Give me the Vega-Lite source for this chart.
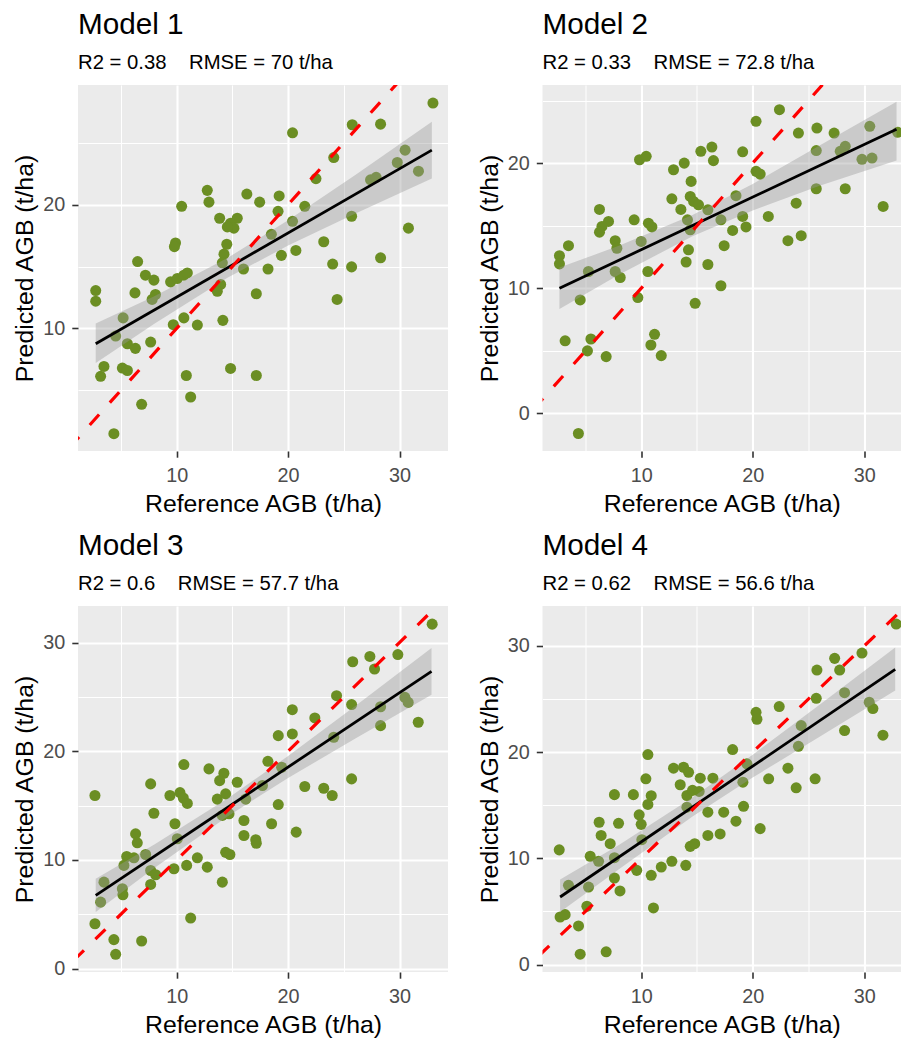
{
  "$schema": "https://vega.github.io/schema/vega-lite/v6.json",
  "background": "white",
  "padding": {"left": 12, "top": 10, "right": 0, "bottom": 0},
  "bounds": "flush",
  "columns": 2,
  "spacing": {"row": 155, "column": 94.5},
  "datasets": {
    "p1": [
      {"ref":33.0,"pred":28.2},{"ref":20.4,"pred":25.8},{"ref":25.76,"pred":26.45},{"ref":28.3,"pred":26.5},{"ref":24.1,"pred":23.8},{"ref":30.5,"pred":24.4},{"ref":29.8,"pred":23.4},{"ref":31.7,"pred":22.7},{"ref":27.4,"pred":22.0},{"ref":27.9,"pred":22.2},{"ref":22.5,"pred":22.1},{"ref":12.75,"pred":21.15},{"ref":12.9,"pred":20.2},{"ref":16.3,"pred":20.85},{"ref":19.2,"pred":20.7},{"ref":17.45,"pred":20.2},{"ref":10.45,"pred":19.86},{"ref":21.5,"pred":19.86},{"ref":19.1,"pred":19.46},{"ref":25.7,"pred":19.06},{"ref":13.86,"pred":18.9},{"ref":15.44,"pred":18.9},{"ref":14.84,"pred":18.5},{"ref":15.14,"pred":18.1},{"ref":14.55,"pred":18.2},{"ref":20.4,"pred":18.65},{"ref":30.8,"pred":18.1},{"ref":18.5,"pred":17.6},{"ref":23.2,"pred":17.0},{"ref":9.9,"pred":16.9},{"ref":9.8,"pred":16.6},{"ref":14.5,"pred":16.8},{"ref":19.4,"pred":15.9},{"ref":20.7,"pred":16.3},{"ref":28.3,"pred":15.7},{"ref":6.5,"pred":15.4},{"ref":14.25,"pred":16.0},{"ref":24.0,"pred":15.2},{"ref":25.7,"pred":14.97},{"ref":14.1,"pred":15.3},{"ref":16.0,"pred":14.8},{"ref":18.2,"pred":14.8},{"ref":7.2,"pred":14.3},{"ref":7.96,"pred":13.9},{"ref":9.46,"pred":13.76},{"ref":10.06,"pred":14.03},{"ref":10.65,"pred":14.3},{"ref":10.96,"pred":14.48},{"ref":2.74,"pred":13.06},{"ref":2.74,"pred":12.2},{"ref":6.26,"pred":12.87},{"ref":8.1,"pred":12.74},{"ref":7.8,"pred":12.34},{"ref":13.95,"pred":13.55},{"ref":13.65,"pred":13.0},{"ref":17.15,"pred":12.8},{"ref":5.2,"pred":10.85},{"ref":4.53,"pred":9.38},{"ref":9.7,"pred":10.3},{"ref":10.65,"pred":10.85},{"ref":11.86,"pred":10.27},{"ref":14.15,"pred":10.65},{"ref":5.58,"pred":8.76},{"ref":6.3,"pred":8.39},{"ref":7.67,"pred":8.9},{"ref":3.48,"pred":6.93},{"ref":3.18,"pred":6.13},{"ref":5.13,"pred":6.8},{"ref":5.58,"pred":6.6},{"ref":10.87,"pred":6.2},{"ref":14.84,"pred":6.77},{"ref":17.15,"pred":6.2},{"ref":24.4,"pred":12.34},{"ref":11.26,"pred":4.46},{"ref":6.86,"pred":3.87},{"ref":4.37,"pred":1.5}
    ],
    "p2": [
      {"ref":33.0,"pred":22.46},{"ref":22.4,"pred":24.27},{"ref":20.3,"pred":23.34},{"ref":25.76,"pred":22.8},{"ref":24.1,"pred":22.4},{"ref":27.3,"pred":22.4},{"ref":30.5,"pred":22.94},{"ref":25.7,"pred":21.0},{"ref":28.3,"pred":21.34},{"ref":27.85,"pred":20.94},{"ref":29.8,"pred":20.3},{"ref":30.7,"pred":20.4},{"ref":9.85,"pred":20.27},{"ref":10.45,"pred":20.54},{"ref":15.35,"pred":20.94},{"ref":16.34,"pred":21.28},{"ref":16.48,"pred":20.2},{"ref":19.1,"pred":20.9},{"ref":13.86,"pred":20.0},{"ref":12.9,"pred":19.47},{"ref":14.48,"pred":18.54},{"ref":20.3,"pred":19.34},{"ref":20.67,"pred":19.12},{"ref":25.7,"pred":17.95},{"ref":28.3,"pred":17.95},{"ref":31.7,"pred":16.54},{"ref":18.5,"pred":17.4},{"ref":12.75,"pred":17.15},{"ref":14.4,"pred":17.34},{"ref":14.7,"pred":16.94},{"ref":15.14,"pred":16.67},{"ref":13.56,"pred":16.3},{"ref":6.26,"pred":16.3},{"ref":23.9,"pred":16.8},{"ref":15.98,"pred":16.27},{"ref":19.1,"pred":15.74},{"ref":19.4,"pred":14.9},{"ref":17.15,"pred":15.47},{"ref":14.15,"pred":15.47},{"ref":21.4,"pred":15.74},{"ref":9.37,"pred":15.47},{"ref":10.65,"pred":15.2},{"ref":10.96,"pred":14.9},{"ref":7.07,"pred":15.34},{"ref":6.48,"pred":14.94},{"ref":6.26,"pred":14.48},{"ref":14.4,"pred":14.67},{"ref":18.2,"pred":14.62},{"ref":3.48,"pred":13.4},{"ref":2.67,"pred":12.6},{"ref":2.67,"pred":11.95},{"ref":7.67,"pred":13.8},{"ref":7.82,"pred":13.2},{"ref":10.0,"pred":13.74},{"ref":23.16,"pred":13.8},{"ref":24.35,"pred":14.2},{"ref":17.44,"pred":13.4},{"ref":14.24,"pred":13.07},{"ref":14.03,"pred":12.1},{"ref":15.98,"pred":11.9},{"ref":5.27,"pred":11.34},{"ref":7.67,"pred":11.34},{"ref":8.12,"pred":10.86},{"ref":10.6,"pred":11.34},{"ref":17.15,"pred":10.2},{"ref":14.84,"pred":8.8},{"ref":4.53,"pred":9.07},{"ref":9.7,"pred":9.26},{"ref":3.18,"pred":5.8},{"ref":5.49,"pred":5.95},{"ref":5.18,"pred":5.0},{"ref":6.86,"pred":4.54},{"ref":11.2,"pred":6.32},{"ref":10.87,"pred":5.47},{"ref":11.8,"pred":4.62},{"ref":4.37,"pred":-1.6}
    ],
    "p3": [
      {"ref":32.93,"pred":31.7},{"ref":25.8,"pred":28.24},{"ref":27.34,"pred":28.73},{"ref":27.76,"pred":27.57},{"ref":29.85,"pred":28.9},{"ref":24.35,"pred":25.12},{"ref":25.7,"pred":24.3},{"ref":28.3,"pred":24.1},{"ref":30.48,"pred":24.96},{"ref":30.78,"pred":24.5},{"ref":28.3,"pred":22.36},{"ref":31.68,"pred":22.67},{"ref":20.38,"pred":23.83},{"ref":22.4,"pred":23.07},{"ref":20.38,"pred":21.6},{"ref":19.12,"pred":21.44},{"ref":24.1,"pred":21.29},{"ref":18.19,"pred":19.08},{"ref":19.42,"pred":18.53},{"ref":10.65,"pred":18.78},{"ref":12.9,"pred":18.38},{"ref":14.24,"pred":17.98},{"ref":13.86,"pred":17.3},{"ref":15.44,"pred":17.15},{"ref":25.7,"pred":17.46},{"ref":7.67,"pred":17.0},{"ref":21.5,"pred":16.76},{"ref":23.2,"pred":16.6},{"ref":2.67,"pred":15.93},{"ref":9.4,"pred":15.93},{"ref":10.3,"pred":16.2},{"ref":10.6,"pred":15.7},{"ref":10.96,"pred":15.2},{"ref":13.65,"pred":15.6},{"ref":14.4,"pred":16.08},{"ref":14.7,"pred":14.25},{"ref":14.1,"pred":14.1},{"ref":16.2,"pred":15.6},{"ref":17.7,"pred":16.85},{"ref":19.12,"pred":15.1},{"ref":23.96,"pred":15.93},{"ref":7.96,"pred":14.3},{"ref":9.85,"pred":13.33},{"ref":16.04,"pred":13.63},{"ref":18.52,"pred":13.33},{"ref":20.73,"pred":12.56},{"ref":6.32,"pred":12.4},{"ref":6.47,"pred":11.58},{"ref":10.06,"pred":11.95},{"ref":16.04,"pred":12.25},{"ref":17.1,"pred":11.86},{"ref":17.15,"pred":11.54},{"ref":5.52,"pred":10.32},{"ref":6.17,"pred":10.2},{"ref":7.22,"pred":10.5},{"ref":5.27,"pred":9.5},{"ref":14.4,"pred":10.7},{"ref":14.78,"pred":10.5},{"ref":11.86,"pred":10.2},{"ref":9.76,"pred":9.19},{"ref":10.9,"pred":9.5},{"ref":12.75,"pred":9.34},{"ref":7.67,"pred":9.03},{"ref":8.12,"pred":8.64},{"ref":7.67,"pred":7.75},{"ref":14.1,"pred":7.96},{"ref":3.48,"pred":7.96},{"ref":3.18,"pred":6.12},{"ref":5.13,"pred":7.35},{"ref":5.18,"pred":6.8},{"ref":11.26,"pred":4.65},{"ref":2.67,"pred":4.13},{"ref":6.86,"pred":2.54},{"ref":4.37,"pred":2.67},{"ref":4.53,"pred":1.32}
    ],
    "p4": [
      {"ref":32.87,"pred":32.06},{"ref":25.76,"pred":27.73},{"ref":27.35,"pred":28.83},{"ref":27.8,"pred":27.73},{"ref":29.8,"pred":29.33},{"ref":25.7,"pred":25.07},{"ref":28.24,"pred":25.6},{"ref":30.45,"pred":24.7},{"ref":30.78,"pred":24.1},{"ref":28.24,"pred":22.03},{"ref":31.68,"pred":21.6},{"ref":20.3,"pred":23.75},{"ref":20.38,"pred":23.1},{"ref":22.38,"pred":24.29},{"ref":24.35,"pred":22.5},{"ref":24.1,"pred":20.55},{"ref":18.2,"pred":20.24},{"ref":19.48,"pred":18.9},{"ref":23.16,"pred":18.49},{"ref":25.6,"pred":17.49},{"ref":21.43,"pred":17.49},{"ref":23.9,"pred":16.64},{"ref":10.6,"pred":19.77},{"ref":12.9,"pred":18.49},{"ref":13.8,"pred":18.58},{"ref":14.25,"pred":18.1},{"ref":10.42,"pred":17.49},{"ref":15.3,"pred":17.55},{"ref":16.43,"pred":17.55},{"ref":19.12,"pred":17.17},{"ref":13.5,"pred":16.93},{"ref":7.6,"pred":16.0},{"ref":9.3,"pred":16.0},{"ref":10.9,"pred":15.9},{"ref":10.6,"pred":15.08},{"ref":14.1,"pred":15.92},{"ref":14.6,"pred":16.4},{"ref":15.2,"pred":16.3},{"ref":14.1,"pred":14.82},{"ref":15.98,"pred":14.35},{"ref":17.4,"pred":14.35},{"ref":19.18,"pred":14.9},{"ref":18.5,"pred":13.5},{"ref":20.67,"pred":12.8},{"ref":6.23,"pred":13.4},{"ref":7.97,"pred":13.3},{"ref":9.82,"pred":14.1},{"ref":10.0,"pred":13.2},{"ref":6.41,"pred":12.16},{"ref":7.22,"pred":11.38},{"ref":10.06,"pred":11.76},{"ref":15.98,"pred":12.16},{"ref":17.08,"pred":12.3},{"ref":14.4,"pred":11.13},{"ref":14.8,"pred":11.38},{"ref":2.65,"pred":10.8},{"ref":5.43,"pred":10.2},{"ref":6.18,"pred":9.72},{"ref":7.6,"pred":10.06},{"ref":9.6,"pred":8.87},{"ref":10.9,"pred":8.4},{"ref":11.8,"pred":9.18},{"ref":12.75,"pred":9.72},{"ref":14.0,"pred":9.34},{"ref":3.48,"pred":7.46},{"ref":7.6,"pred":8.15},{"ref":8.1,"pred":6.93},{"ref":5.28,"pred":7.3},{"ref":5.13,"pred":5.49},{"ref":11.1,"pred":5.33},{"ref":2.73,"pred":4.48},{"ref":3.18,"pred":4.7},{"ref":4.38,"pred":3.64},{"ref":4.53,"pred":0.98},{"ref":6.86,"pred":1.2}
    ],
    "b1": [{"ref":2.74,"lo":7.2,"hi":10.4},{"ref":8,"lo":10.38,"hi":12.6},{"ref":14.6,"lo":14.11,"hi":15.71},{"ref":20,"lo":16.69,"hi":18.73},{"ref":26,"lo":19.26,"hi":22.38},{"ref":32.9,"lo":22.1,"hi":26.7}],
    "b2": [{"ref":2.67,"lo":8.35,"hi":11.65},{"ref":8,"lo":11.08,"hi":13.39},{"ref":14.6,"lo":14.16,"hi":15.86},{"ref":20,"lo":16.22,"hi":18.34},{"ref":26,"lo":18.2,"hi":21.4},{"ref":32.9,"lo":20.2,"hi":24.9}],
    "b3": [{"ref":2.74,"lo":5.21,"hi":8.27},{"ref":8,"lo":9.25,"hi":11.43},{"ref":14.6,"lo":14.03,"hi":15.67},{"ref":20,"lo":17.54,"hi":19.56},{"ref":26,"lo":21.16,"hi":24.14},{"ref":32.87,"lo":25.2,"hi":29.5}],
    "b4": [{"ref":2.73,"lo":4.95,"hi":8.0},{"ref":8,"lo":8.98,"hi":11.26},{"ref":14.6,"lo":13.93,"hi":15.73},{"ref":20,"lo":17.61,"hi":19.75},{"ref":26,"lo":21.45,"hi":24.47},{"ref":32.78,"lo":25.8,"hi":29.85}],
    "l1": [{"ref":2.74,"pred":8.76},{"ref":32.9,"pred":24.4}],
    "l2": [{"ref":2.67,"pred":10.0},{"ref":32.9,"pred":22.7}],
    "l3": [{"ref":2.74,"pred":6.74},{"ref":32.87,"pred":27.35}],
    "l4": [{"ref":2.73,"pred":6.36},{"ref":32.78,"pred":27.8}],
    "ab": [{"ref":-5,"pred":-5},{"ref":40,"pred":40}]
  },
  "concat": [
    {
      "width": 370, "height": 366,
      "title": {"text": "Model 1", "subtitle": "R2 = 0.38\u00a0\u00a0\u00a0\u00a0RMSE = 70 t/ha"},
      "resolve": {"axis": {"x": "independent", "y": "independent"}},
      "layer": [
        {"data": {"name": "p1"}, "mark": {"type": "circle", "size": 122, "opacity": 1, "color": "#6B8E23", "clip": true},
         "encoding": {
           "x": {"field": "ref", "type": "quantitative", "scale": {"domain": [1.15, 34.35], "nice": false, "zero": false}, "axis": {"values": [10, 20, 30], "title": "Reference AGB (t/ha)", "orient": "bottom"}},
           "y": {"field": "pred", "type": "quantitative", "scale": {"domain": [0.1, 29.66], "nice": false, "zero": false}, "axis": {"values": [10, 20], "title": "Predicted AGB (t/ha)", "orient": "left"}}}},
        {"data": {"name": "b1"}, "mark": {"type": "area", "color": "#999999", "opacity": 0.4, "clip": true},
         "encoding": {
           "x": {"field": "ref", "type": "quantitative", "scale": {"domain": [1.15, 34.35], "nice": false, "zero": false}, "axis": null},
           "y": {"field": "lo", "type": "quantitative", "scale": {"domain": [0.1, 29.66], "nice": false, "zero": false}, "axis": null},
           "y2": {"field": "hi"}}},
        {"data": {"name": "l1"}, "mark": {"type": "line", "color": "black", "strokeWidth": 2.8, "clip": true},
         "encoding": {
           "x": {"field": "ref", "type": "quantitative", "scale": {"domain": [1.15, 34.35], "nice": false, "zero": false}, "axis": null},
           "y": {"field": "pred", "type": "quantitative", "scale": {"domain": [0.1, 29.66], "nice": false, "zero": false}, "axis": null}}},
        {"data": {"name": "ab"}, "mark": {"type": "line", "color": "#FF0000", "strokeWidth": 3.2, "strokeDash": [14, 16], "clip": true},
         "encoding": {
           "x": {"field": "ref", "type": "quantitative", "scale": {"domain": [1.15, 34.35], "nice": false, "zero": false}, "axis": {"values": [5, 15, 25], "orient": "top", "grid": true, "gridWidth": 1.05, "ticks": false, "labels": false, "domain": false, "title": null}},
           "y": {"field": "pred", "type": "quantitative", "scale": {"domain": [0.1, 29.66], "nice": false, "zero": false}, "axis": {"values": [5, 15, 25], "orient": "right", "grid": true, "gridWidth": 1.05, "ticks": false, "labels": false, "domain": false, "title": null}}}}
      ]
    },
    {
      "width": 358.5, "height": 366,
      "title": {"text": "Model 2", "subtitle": "R2 = 0.33\u00a0\u00a0\u00a0\u00a0RMSE = 72.8 t/ha"},
      "resolve": {"axis": {"x": "independent", "y": "independent"}},
      "layer": [
        {"data": {"name": "p2"}, "mark": {"type": "circle", "size": 122, "opacity": 1, "color": "#6B8E23", "clip": true},
         "encoding": {
           "x": {"field": "ref", "type": "quantitative", "scale": {"domain": [1.15, 33.3], "nice": false, "zero": false}, "axis": {"values": [10, 20, 30], "title": "Reference AGB (t/ha)", "orient": "bottom"}},
           "y": {"field": "pred", "type": "quantitative", "scale": {"domain": [-3.0, 26.24], "nice": false, "zero": false}, "axis": {"values": [0, 10, 20], "title": "Predicted AGB (t/ha)", "orient": "left"}}}},
        {"data": {"name": "b2"}, "mark": {"type": "area", "color": "#999999", "opacity": 0.4, "clip": true},
         "encoding": {
           "x": {"field": "ref", "type": "quantitative", "scale": {"domain": [1.15, 33.3], "nice": false, "zero": false}, "axis": null},
           "y": {"field": "lo", "type": "quantitative", "scale": {"domain": [-3.0, 26.24], "nice": false, "zero": false}, "axis": null},
           "y2": {"field": "hi"}}},
        {"data": {"name": "l2"}, "mark": {"type": "line", "color": "black", "strokeWidth": 2.8, "clip": true},
         "encoding": {
           "x": {"field": "ref", "type": "quantitative", "scale": {"domain": [1.15, 33.3], "nice": false, "zero": false}, "axis": null},
           "y": {"field": "pred", "type": "quantitative", "scale": {"domain": [-3.0, 26.24], "nice": false, "zero": false}, "axis": null}}},
        {"data": {"name": "ab"}, "mark": {"type": "line", "color": "#FF0000", "strokeWidth": 3.2, "strokeDash": [14, 16], "clip": true},
         "encoding": {
           "x": {"field": "ref", "type": "quantitative", "scale": {"domain": [1.15, 33.3], "nice": false, "zero": false}, "axis": {"values": [5, 15, 25], "orient": "top", "grid": true, "gridWidth": 1.05, "ticks": false, "labels": false, "domain": false, "title": null}},
           "y": {"field": "pred", "type": "quantitative", "scale": {"domain": [-3.0, 26.24], "nice": false, "zero": false}, "axis": {"values": [-5, 5, 15, 25], "orient": "right", "grid": true, "gridWidth": 1.05, "ticks": false, "labels": false, "domain": false, "title": null}}}}
      ]
    },
    {
      "width": 370, "height": 366,
      "title": {"text": "Model 3", "subtitle": "R2 = 0.6\u00a0\u00a0\u00a0\u00a0RMSE = 57.7 t/ha"},
      "resolve": {"axis": {"x": "independent", "y": "independent"}},
      "layer": [
        {"data": {"name": "p3"}, "mark": {"type": "circle", "size": 122, "opacity": 1, "color": "#6B8E23", "clip": true},
         "encoding": {
           "x": {"field": "ref", "type": "quantitative", "scale": {"domain": [1.15, 34.35], "nice": false, "zero": false}, "axis": {"values": [10, 20, 30], "title": "Reference AGB (t/ha)", "orient": "bottom"}},
           "y": {"field": "pred", "type": "quantitative", "scale": {"domain": [-0.31, 33.37], "nice": false, "zero": false}, "axis": {"values": [0, 10, 20, 30], "title": "Predicted AGB (t/ha)", "orient": "left"}}}},
        {"data": {"name": "b3"}, "mark": {"type": "area", "color": "#999999", "opacity": 0.4, "clip": true},
         "encoding": {
           "x": {"field": "ref", "type": "quantitative", "scale": {"domain": [1.15, 34.35], "nice": false, "zero": false}, "axis": null},
           "y": {"field": "lo", "type": "quantitative", "scale": {"domain": [-0.31, 33.37], "nice": false, "zero": false}, "axis": null},
           "y2": {"field": "hi"}}},
        {"data": {"name": "l3"}, "mark": {"type": "line", "color": "black", "strokeWidth": 2.8, "clip": true},
         "encoding": {
           "x": {"field": "ref", "type": "quantitative", "scale": {"domain": [1.15, 34.35], "nice": false, "zero": false}, "axis": null},
           "y": {"field": "pred", "type": "quantitative", "scale": {"domain": [-0.31, 33.37], "nice": false, "zero": false}, "axis": null}}},
        {"data": {"name": "ab"}, "mark": {"type": "line", "color": "#FF0000", "strokeWidth": 3.2, "strokeDash": [14, 16], "clip": true},
         "encoding": {
           "x": {"field": "ref", "type": "quantitative", "scale": {"domain": [1.15, 34.35], "nice": false, "zero": false}, "axis": {"values": [5, 15, 25], "orient": "top", "grid": true, "gridWidth": 1.05, "ticks": false, "labels": false, "domain": false, "title": null}},
           "y": {"field": "pred", "type": "quantitative", "scale": {"domain": [-0.31, 33.37], "nice": false, "zero": false}, "axis": {"values": [5, 15, 25], "orient": "right", "grid": true, "gridWidth": 1.05, "ticks": false, "labels": false, "domain": false, "title": null}}}}
      ]
    },
    {
      "width": 358.5, "height": 366,
      "title": {"text": "Model 4", "subtitle": "R2 = 0.62\u00a0\u00a0\u00a0\u00a0RMSE = 56.6 t/ha"},
      "resolve": {"axis": {"x": "independent", "y": "independent"}},
      "layer": [
        {"data": {"name": "p4"}, "mark": {"type": "circle", "size": 122, "opacity": 1, "color": "#6B8E23", "clip": true},
         "encoding": {
           "x": {"field": "ref", "type": "quantitative", "scale": {"domain": [1.15, 33.3], "nice": false, "zero": false}, "axis": {"values": [10, 20, 30], "title": "Reference AGB (t/ha)", "orient": "bottom"}},
           "y": {"field": "pred", "type": "quantitative", "scale": {"domain": [-0.7, 33.76], "nice": false, "zero": false}, "axis": {"values": [0, 10, 20, 30], "title": "Predicted AGB (t/ha)", "orient": "left"}}}},
        {"data": {"name": "b4"}, "mark": {"type": "area", "color": "#999999", "opacity": 0.4, "clip": true},
         "encoding": {
           "x": {"field": "ref", "type": "quantitative", "scale": {"domain": [1.15, 33.3], "nice": false, "zero": false}, "axis": null},
           "y": {"field": "lo", "type": "quantitative", "scale": {"domain": [-0.7, 33.76], "nice": false, "zero": false}, "axis": null},
           "y2": {"field": "hi"}}},
        {"data": {"name": "l4"}, "mark": {"type": "line", "color": "black", "strokeWidth": 2.8, "clip": true},
         "encoding": {
           "x": {"field": "ref", "type": "quantitative", "scale": {"domain": [1.15, 33.3], "nice": false, "zero": false}, "axis": null},
           "y": {"field": "pred", "type": "quantitative", "scale": {"domain": [-0.7, 33.76], "nice": false, "zero": false}, "axis": null}}},
        {"data": {"name": "ab"}, "mark": {"type": "line", "color": "#FF0000", "strokeWidth": 3.2, "strokeDash": [14, 16], "clip": true},
         "encoding": {
           "x": {"field": "ref", "type": "quantitative", "scale": {"domain": [1.15, 33.3], "nice": false, "zero": false}, "axis": {"values": [5, 15, 25], "orient": "top", "grid": true, "gridWidth": 1.05, "ticks": false, "labels": false, "domain": false, "title": null}},
           "y": {"field": "pred", "type": "quantitative", "scale": {"domain": [-0.7, 33.76], "nice": false, "zero": false}, "axis": {"values": [5, 15, 25], "orient": "right", "grid": true, "gridWidth": 1.05, "ticks": false, "labels": false, "domain": false, "title": null}}}}
      ]
    }
  ],
  "config": {
    "font": "Liberation Sans",
    "view": {"fill": "#EBEBEB", "stroke": null},
    "axis": {"gridColor": "#FFFFFF", "gridWidth": 2.1, "gridOpacity": 1, "domain": false, "tickColor": "#333333", "tickWidth": 1.6, "tickSize": 6.2, "labelColor": "#4D4D4D", "labelFontSize": 19.8, "titleFontSize": 24.8, "titleFontWeight": "normal", "titleColor": "#000000", "labelFlush": false},
    "axisX": {"labelPadding": 8.5, "titlePadding": 6},
    "axisY": {"labelPadding": 7, "titlePadding": 5},
    "title": {"anchor": "start", "frame": "group", "fontSize": 29.7, "fontWeight": "normal", "color": "#000000", "subtitleFontSize": 20.3, "subtitleColor": "#000000", "subtitlePadding": 12, "offset": 11}
  }
}
